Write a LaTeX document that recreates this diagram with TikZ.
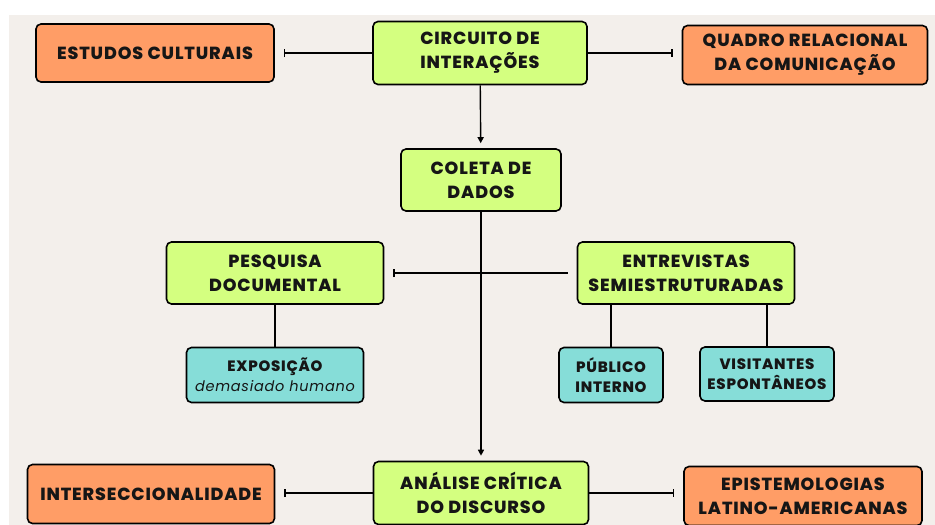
\documentclass[tikz,border=0pt]{standalone}
\usepackage{fontspec}
\setmainfont{Poppins}[LetterSpace=5,BoldFont={Poppins ExtraBold}]
\usetikzlibrary{arrows.meta}

\begin{document}
\begin{tikzpicture}[x=1pt,y=-1pt,
  font=\bfseries\fontsize{17.5}{24}\selectfont,text=ctext,
  box/.style={draw=black,line width=1.6pt,rounded corners=5pt,align=center,inner sep=1pt},
  corebox/.style={box,fill=cgreen},
  sidebox/.style={box,fill=corange},
  leafbox/.style={box,fill=cteal,font=\bfseries\fontsize{15}{20}\selectfont},
  barline/.style={line width=1.4pt,-{Bar[width=8pt,line width=1.4pt]},shorten >=9pt},
  downline/.style={line width=1.4pt,-{Triangle[length=6pt,width=6pt]},shorten >=5pt},
  link/.style={line width=1.4pt}]
\definecolor{cgreen}{RGB}{212,255,128}      %lime
\definecolor{corange}{RGB}{255,157,102}     %orange
\definecolor{cteal}{RGB}{134,221,216}       %teal
\definecolor{cback}{RGB}{243,239,235}       %beige
\definecolor{ctext}{RGB}{22,22,22}          %text
\fill[white] (0,0) rectangle (935,525);
\fill[cback] (9,15) rectangle (935,525);
\useasboundingbox (0,0) rectangle (935,525);
% centre column
\node[corebox,minimum width=214pt,minimum height=63pt] (circ) at (480,53) {CIRCUITO DE\\INTERAÇÕES};
\node[corebox,minimum width=160pt,minimum height=62pt] (coleta) at (481,180) {COLETA DE\\DADOS};
\node[corebox,minimum width=215pt,minimum height=63pt] (analise) at (481,493) {ANÁLISE CRÍTICA\\DO DISCURSO};
% theory boxes
\node[sidebox,minimum width=238pt,minimum height=58pt] (estudos) at (155,53) {ESTUDOS CULTURAIS};
\node[sidebox,minimum width=245pt,minimum height=59pt] (quadro) at (805,55) {QUADRO RELACIONAL\\DA COMUNICAÇÃO};
\node[sidebox,minimum width=247pt,minimum height=59pt] (inter) at (151,494) {INTERSECCIONALIDADE};
\node[sidebox,minimum width=238pt,minimum height=59pt] (episte) at (803,496) {EPISTEMOLOGIAS\\LATINO-AMERICANAS};
% methods
\node[corebox,minimum width=217pt,minimum height=62pt] (pesq) at (275,273) {PESQUISA\\DOCUMENTAL};
\node[corebox,minimum width=217pt,minimum height=62pt] (entrev) at (686,273) {ENTREVISTAS\\SEMIESTRUTURADAS};
\node[leafbox,minimum width=177pt,minimum height=55pt] (expo) at (275,375) {EXPOSIÇÃO\\{\mdseries\itshape\fontsize{14.5}{20}\selectfont demasiado humano}};
\node[leafbox,minimum width=104pt,minimum height=55pt] (publico) at (611,375) {PÚBLICO\\INTERNO};
\node[leafbox,minimum width=134pt,minimum height=54pt] (visit) at (767,374) {VISITANTES\\ESPONTÂNEOS};
% connectors
\draw[barline] (circ.west) -- (circ.west -| estudos.east);
\draw[barline] (circ.east) -- (circ.east -| quadro.west);
\draw[barline] (analise.west) -- (analise.west -| inter.east);
\draw[barline] (analise.east) -- (analise.east -| episte.west);
\draw[downline] (circ) -- (coleta);
\draw[downline] (coleta) -- (analise);
\draw[barline,{Bar[width=8pt,line width=1.4pt]}-,shorten <=9pt] (pesq) -- (entrev);
\draw[link] (pesq) -- (expo);
\draw[link] (publico.north) -- (publico.north |- entrev.south);
\draw[link] (visit.north) -- (visit.north |- entrev.south);
\end{tikzpicture}
\end{document}
